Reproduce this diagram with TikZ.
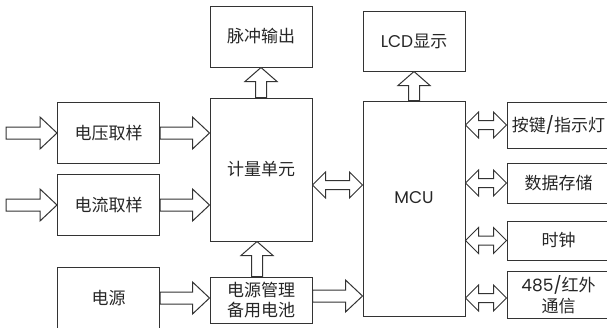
\documentclass[tikz,border=0pt]{standalone}
\usepackage{fontspec}
\setmainfont{Poppins}
\newfontfamily\cjk{Noto Sans CJK SC}
\newfontfamily\latinfont{Poppins}
\usepackage{tikz}
\usetikzlibrary{positioning, calc}
\definecolor{linegray}{HTML}{333333}
\definecolor{textgray}{HTML}{262626}

% hollow block arrows, tail point first, head node anchor second
\newcommand{\rarrow}[2]{%
  \draw[fatline] let \p1=#1, \p2=#2 in
    (\x1,\y1+6pt) -- (\x2-17pt,\y1+6pt) -- (\x2-17pt,\y1+16pt) -- (\x2,\y1)
    -- (\x2-17pt,\y1-16pt) -- (\x2-17pt,\y1-6pt) -- (\x1,\y1-6pt) -- cycle;}
\newcommand{\uarrow}[2]{%
  \draw[fatline] let \p1=#1, \p2=#2 in
    (\x1-5.5pt,\y1) -- (\x1-5.5pt,\y2-14pt) -- (\x1-16pt,\y2-14pt) -- (\x1,\y2)
    -- (\x1+16pt,\y2-14pt) -- (\x1+5.5pt,\y2-14pt) -- (\x1+5.5pt,\y1) -- cycle;}
\newcommand{\lrarrow}[2]{%
  \draw[fatline] let \p1=#1, \p2=#2 in
    (\x1,\y1) -- (\x1+13pt,\y1+13pt) -- (\x1+13pt,\y1+4.5pt) -- (\x2-13pt,\y1+4.5pt)
    -- (\x2-13pt,\y1+13pt) -- (\x2,\y1) -- (\x2-13pt,\y1-13pt) -- (\x2-13pt,\y1-4.5pt)
    -- (\x1+13pt,\y1-4.5pt) -- (\x1+13pt,\y1-13pt) -- cycle;}

\begin{document}
\begin{tikzpicture}[
    x=1pt, y=1pt,
    box/.style={rectangle, draw=linegray, line width=1pt, text=textgray, align=center, inner sep=2pt, minimum width=102pt, minimum height=61pt, font=\cjk\fontsize{17}{20.5}\selectfont},
    sidebox/.style={box, minimum width=103pt},
    fatline/.style={draw=linegray, line width=1pt, fill=white, line join=miter}
]
    \clip (0,0) rectangle (607,-327);

    % Nodes
    \node[box] (vsamp) at (108.5,-133) {电压取样};
    \node[box, below=10pt of vsamp] (isamp) {电流取样};
    \node[box, below=31pt of isamp] (power) {电源};
    \node[box, minimum height=143pt] (meter) at (261,-169.5) {计量单元};
    \node[box, above=30pt of meter] (pulse) {脉冲输出};
    \node[box, minimum height=46pt, below=35pt of meter] (pmgmt) {电源管理\\备用电池};
    \node[box, minimum height=215pt, label={[font=\latinfont\fontsize{17}{20}\selectfont, text=textgray, yshift=11pt]center:MCU}] (mcu) at (414,-208.5) {};
    \node[box, above=29pt of mcu, minimum height=60pt] (lcd) {{\latinfont LCD}显示};
    \node[sidebox, minimum height=46pt] (keys) at (558.5,-125) {按键{\latinfont /}指示灯};
    \node[sidebox, minimum height=40pt, below=14pt of keys] (store) {数据存储};
    \node[sidebox, minimum height=39pt, below=17pt of store] (clock) {时钟};
    \node[sidebox, minimum height=47pt, below=10pt of clock] (comm) {{\latinfont 485/}红外\\通信};
    \coordinate (vin) at ([xshift=-51pt]vsamp.west);
    \coordinate (iin) at ([xshift=-51pt]isamp.west);

    % Connections
    \rarrow{(vin)}{(vsamp.west)}
    \rarrow{(iin)}{(isamp.west)}
    \rarrow{(vsamp.east)}{(meter.west)}
    \rarrow{(isamp.east)}{(meter.west)}
    \rarrow{(power.east)}{(pmgmt.west)}
    \rarrow{([yshift=4pt]pmgmt.east)}{(mcu.west)}
    \uarrow{(meter.north)}{(pulse.south)}
    \uarrow{([xshift=-4pt]pmgmt.north)}{(meter.south)}
    \uarrow{(mcu.north)}{(lcd.south)}
    \lrarrow{([yshift=-15.5pt]meter.east)}{(mcu.west)}
    \lrarrow{(mcu.east |- keys.west)}{(keys.west)}
    \lrarrow{(mcu.east |- store.west)}{(store.west)}
    \lrarrow{(mcu.east |- clock.west)}{(clock.west)}
    \lrarrow{([yshift=-3.5pt]mcu.east |- comm.west)}{(comm.west)}
\end{tikzpicture}
\end{document}
